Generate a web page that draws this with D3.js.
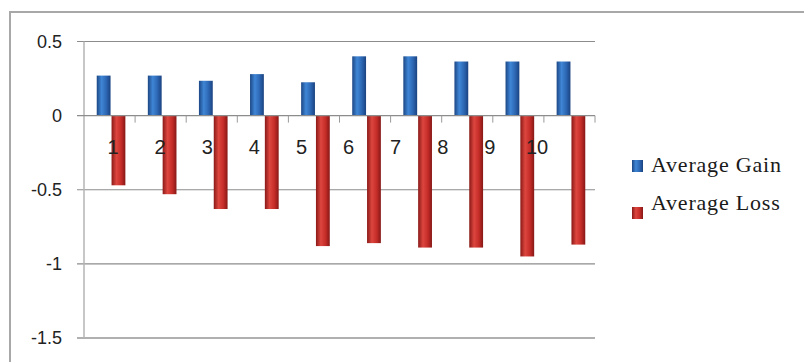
<!DOCTYPE html>
<html>
<head>
<meta charset="utf-8">
<script src="https://cdn.jsdelivr.net/npm/d3@7"></script>
<style>
  body { margin: 0; background: #fff; }
  svg { display: block; }
</style>
</head>
<body>
<div id="chart"></div>
<script>
// chart data
const categories = ["1", "2", "3", "4", "5", "6", "7", "8", "9", "10"];
const averageGain = [0.27, 0.27, 0.235, 0.28, 0.225, 0.40, 0.40, 0.365, 0.365, 0.365];
const averageLoss = [-0.47, -0.53, -0.63, -0.63, -0.88, -0.86, -0.89, -0.89, -0.95, -0.87];
const seriesNames = ["Average Gain", "Average Loss"];
const yTicks = [0.5, 0, -0.5, -1, -1.5];

const width = 804, height = 362;
const plot = {left: 84, right: 595, top: 41.5, bottom: 338};

const svg = d3.select("#chart").append("svg")
    .attr("width", width)
    .attr("height", height);

// gradients for the cylinder look
const defs = svg.append("defs");
const gradients = [
    {id: "gBlue", stops: ["#1c4785", "#3f86d6", "#2c66b2", "#1a4280"]},
    {id: "gRed", stops: ["#8a1917", "#dd463f", "#c42c28", "#861816"]}
];
gradients.forEach(g => {
    let lg = defs.append("linearGradient").attr("id", g.id)
        .attr("x1", "0%").attr("x2", "100%").attr("y1", "0%").attr("y2", "0%");
    g.stops.forEach((c, i) => {
        lg.append("stop").attr("offset", [0, 0.35, 0.7, 1][i]).attr("stop-color", c);
    });
});
const fills = ["url(#gBlue)", "url(#gRed)"];

// outer frame
svg.append("path")
    .attr("d", `M10,${height} V12 H${width}`)
    .attr("fill", "none")
    .attr("stroke", "#a8a8a8")
    .attr("stroke-width", 2);

// scales
const y = d3.scaleLinear().domain([-1.5, 0.5]).range([plot.bottom, plot.top]);
const x0 = d3.scaleBand().domain(categories).range([plot.left + 2, plot.right + 2])
    .paddingInner(0.42).paddingOuter(0.21);
const x1 = d3.scaleBand().domain(seriesNames).range([0, x0.bandwidth()]);
const labelX = d3.scalePoint().domain(categories).range([113, 537]);

// gridlines
svg.append("g").selectAll("line")
    .data(yTicks.filter(d => d !== -1.5 && d !== 0))
    .join("line")
    .attr("x1", plot.left - 7).attr("x2", plot.right)
    .attr("y1", d => y(d)).attr("y2", d => y(d))
    .attr("stroke", "#8c8c8c").attr("stroke-width", 1.2);

// bottom line
svg.append("line")
    .attr("x1", plot.left - 7).attr("x2", plot.right)
    .attr("y1", y(-1.5)).attr("y2", y(-1.5))
    .attr("stroke", "#b0b0b0").attr("stroke-width", 2);

// y axis line
svg.append("line")
    .attr("x1", plot.left).attr("x2", plot.left)
    .attr("y1", y(0.5)).attr("y2", y(-1.5))
    .attr("stroke", "#b4b4b4").attr("stroke-width", 1.5);

// y tick labels
svg.append("g").selectAll("text")
    .data(yTicks)
    .join("text")
    .attr("x", 62)
    .attr("y", d => y(d))
    .attr("dy", "0.35em")
    .attr("text-anchor", "end")
    .attr("font-family", "Liberation Sans, Arial, sans-serif")
    .attr("font-size", 18)
    .attr("fill", "#222")
    .text(d => d);

// bars
const groups = svg.append("g").selectAll("g")
    .data(categories)
    .join("g")
    .attr("transform", d => `translate(${x0(d)},0)`);

groups.selectAll("rect")
    .data((d, i) => [averageGain[i], averageLoss[i]].map((v, k) => ({s: seriesNames[k], v: v, k: k})))
    .join("rect")
    .attr("x", d => x1(d.s))
    .attr("width", x1.bandwidth() - 1)
    .attr("y", d => y(Math.max(0, d.v)))
    .attr("height", d => Math.abs(y(d.v) - y(0)))
    .attr("fill", d => fills[d.k]);

// x axis (zero line) with downward ticks at category boundaries
const bounds = categories.map((c, i) => plot.left + (plot.right - plot.left) / categories.length * (i + 1));
svg.append("line")
    .attr("x1", plot.left - 7).attr("x2", plot.right)
    .attr("y1", y(0)).attr("y2", y(0))
    .attr("stroke", "#8c8c8c").attr("stroke-width", 1.2);
svg.append("g").selectAll("line")
    .data(bounds)
    .join("line")
    .attr("x1", d => d).attr("x2", d => d)
    .attr("y1", y(0)).attr("y2", y(0) + 7)
    .attr("stroke", "#9a9a9a").attr("stroke-width", 1);

// category labels
svg.append("g").selectAll("text")
    .data(categories)
    .join("text")
    .attr("x", d => labelX(d))
    .attr("y", 147)
    .attr("dy", "0.35em")
    .attr("text-anchor", "middle")
    .attr("font-family", "Liberation Sans, Arial, sans-serif")
    .attr("font-size", 20)
    .attr("fill", "#222")
    .text(d => d);

// legend
const legend = svg.append("g").selectAll("g")
    .data(seriesNames)
    .join("g");
legend.append("rect")
    .attr("x", 632)
    .attr("y", (d, i) => [160, 207][i])
    .attr("width", 11).attr("height", 12)
    .attr("fill", (d, i) => fills[i]);
legend.append("text")
    .attr("x", 651)
    .attr("y", (d, i) => [172, 210][i])
    .attr("font-family", "Liberation Serif, Times New Roman, serif")
    .attr("font-size", 22)
    .attr("letter-spacing", 0.8)
    .attr("fill", "#1a1a1a")
    .text(d => d);
</script>
</body>
</html>
